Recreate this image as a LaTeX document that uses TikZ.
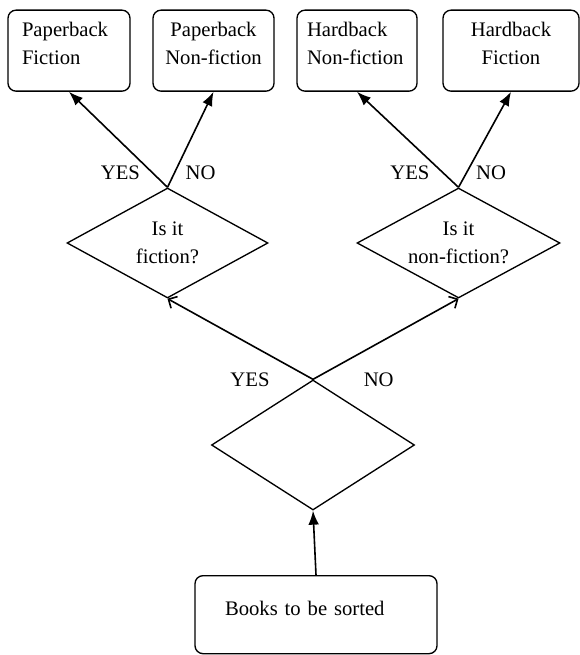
\documentclass[tikz,border=0pt]{standalone}
\usepackage{fontspec}
\setmainfont{Liberation Serif}
\usetikzlibrary{shapes.geometric,arrows.meta,positioning}

\begin{document}
\begin{tikzpicture}[x=0.75pt,y=-0.75pt,
    every node/.style={font=\fontsize{15.5}{21}\selectfont}]
    \tikzstyle{block} = [rectangle, draw, line width=1pt, rounded corners=6pt,
               inner ysep=0pt, text height=19.5pt, text depth=41.25pt,
               anchor=north]
    \tikzstyle{decision} = [diamond, draw, line width=1pt, aspect=1.8,
               inner sep=0pt, align=center]
    \tikzstyle{line} = [draw, line width=1.2pt, -{Latex[length=10.5pt,width=8pt]}]
    \tikzstyle{branch} = [draw, line width=1.2pt, -{Straight Barb[length=5pt,width=10pt]}]
    \tikzstyle{answer} = [inner sep=0pt]

    \useasboundingbox (0,0) rectangle (580,655);

    % Define boxes
    \node [block, text width=70.5pt, inner xsep=10.5pt, align=left]
      (pbfic) at (69,9.5) {Paperback\\Fiction};
    \node [block, text width=81.75pt, inner xsep=4.5pt, align=center]
      (pbnon) at (213.5,9.5) {Paperback\\Non-fiction};
    \node [block, text width=75pt, inner xsep=7.5pt, align=left]
      (hbnon) at (357,9.5) {Hardback\\Non-fiction};
    \node [block, text width=93pt, inner xsep=4.5pt, align=center]
      (hbfic) at (511,9.5) {Hardback\\Fiction};
    \node [block, text width=136.5pt, inner xsep=22.5pt, align=left,
      text height=30pt, text depth=28.5pt]
      (start) at (316,575) {Books to be sorted};

    % Define decisions
    \node [decision, minimum width=150.75pt, minimum height=82.5pt]
      (fic) at (167.5,243) {Is it\\fiction?};
    \node [decision, minimum width=152.25pt, minimum height=82.5pt]
      (nonfic) at (458.5,243) {Is it\\non-fiction?};
    \node [decision, minimum width=152.25pt, minimum height=97.5pt]
      (sort) at (313,445) {};

    % Draw arrows
    \draw [line] (start.north) -- (sort.south);

    \draw [branch] (sort.north) --
    node[answer, pos=0, left=32pt] {YES} (fic.south);
    \draw [branch] (sort.north) --
    node[answer, pos=0, right=37.5pt] {NO} (nonfic.south);

    \draw [line] (fic.north) --
    node[answer, pos=.15, left=9pt] {YES} (pbfic.south);
    \draw [line] (fic.north) --
    node[answer, pos=.15, right=7.9pt] {NO} (pbnon.south);

    \draw [line] (nonfic.north) --
    node[answer, pos=.15, left=9.75pt] {YES} (hbnon.south);
    \draw [line] (nonfic.north) --
    node[answer, pos=.15, right=6.75pt] {NO} (hbfic.south);

  \end{tikzpicture}
\end{document}
